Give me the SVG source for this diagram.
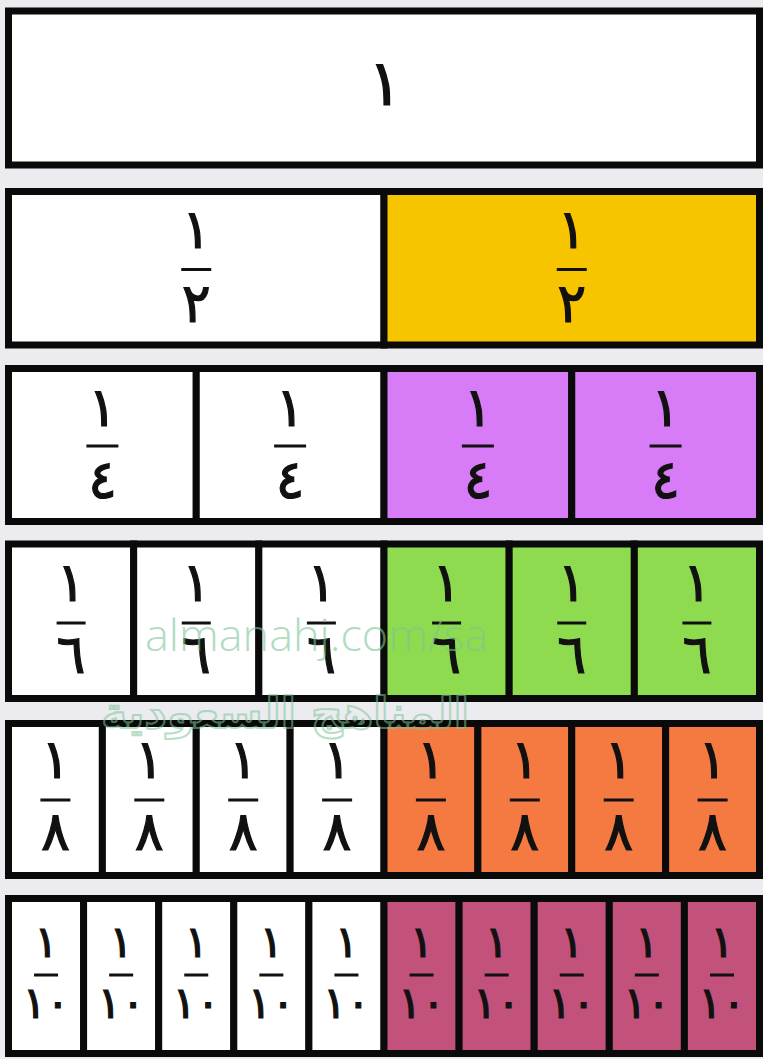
<svg xmlns="http://www.w3.org/2000/svg" width="763" height="1059" viewBox="0 0 763 1059">
<style>
.cell{stroke:#0a0a0a;stroke-width:7}
.w{fill:#ffffff}.yl{fill:#f6c500}.pu{fill:#d77cf6}.gr{fill:#8fdb50}.or{fill:#f47a42}.mr{fill:#c2527c}
.d{font-family:"DejaVu Sans",sans-serif;font-weight:normal;fill:#111;stroke:#111;stroke-width:1.2;text-anchor:middle}
.n{font-size:54px}.s{font-size:44px}.big{font-size:64px}
.bar{stroke:#111;stroke-width:3}
.wm{font-family:"Open Sans","DejaVu Sans",sans-serif;font-weight:300;font-size:45px;fill:#7cc596;opacity:0.6}
.wa{font-family:"DejaVu Sans",sans-serif;font-weight:bold;font-size:44px;fill:none;stroke:#7cc596;stroke-width:2;opacity:0.55}
</style>
<rect x="0" y="0" width="763" height="1059" fill="#ebebf0"/>
<g id="row1">
<g id="r1c1"><rect class="cell w" x="8.5" y="11" width="751" height="154"/><text class="d big" x="385" y="105">١</text></g>
</g>
<g id="row2">
<g id="r2c1"><rect class="cell w" x="8.5" y="191.5" width="375.5" height="153.5"/><text class="d n" x="196.25" y="248">١</text><line class="bar" x1="181.25" y1="269.5" x2="211.25" y2="269.5"/><text class="d n" x="196.25" y="322">٢</text></g>
<g id="r2c2"><rect class="cell yl" x="384" y="191.5" width="375.5" height="153.5"/><text class="d n" x="571.75" y="248">١</text><line class="bar" x1="556.75" y1="269.5" x2="586.75" y2="269.5"/><text class="d n" x="571.75" y="322">٢</text></g>
</g>
<g id="row3">
<g id="r3c1"><rect class="cell w" x="8.5" y="368.5" width="187.75" height="153"/><text class="d n" x="102.4" y="426">١</text><line class="bar" x1="86.4" y1="446" x2="118.4" y2="446"/><text class="d n" x="102.4" y="498">٤</text></g>
<g id="r3c2"><rect class="cell w" x="196.25" y="368.5" width="187.75" height="153"/><text class="d n" x="290.1" y="426">١</text><line class="bar" x1="274.1" y1="446" x2="306.1" y2="446"/><text class="d n" x="290.1" y="498">٤</text></g>
<g id="r3c3"><rect class="cell pu" x="384" y="368.5" width="187.75" height="153"/><text class="d n" x="477.9" y="426">١</text><line class="bar" x1="461.9" y1="446" x2="493.9" y2="446"/><text class="d n" x="477.9" y="498">٤</text></g>
<g id="r3c4"><rect class="cell pu" x="571.75" y="368.5" width="187.75" height="153"/><text class="d n" x="665.6" y="426">١</text><line class="bar" x1="649.6" y1="446" x2="681.6" y2="446"/><text class="d n" x="665.6" y="498">٤</text></g>
</g>
<g id="row4">
<g id="r4c1"><rect class="cell w" x="8.5" y="544" width="125.17" height="154.5"/><text class="d n" x="71.1" y="601">١</text><line class="bar" x1="56.6" y1="623" x2="85.6" y2="623"/><text class="d n" x="71.1" y="673">٦</text></g>
<g id="r4c2"><rect class="cell w" x="133.67" y="544" width="125.17" height="154.5"/><text class="d n" x="196.25" y="601">١</text><line class="bar" x1="181.75" y1="623" x2="210.75" y2="623"/><text class="d n" x="196.25" y="673">٦</text></g>
<g id="r4c3"><rect class="cell w" x="258.83" y="544" width="125.17" height="154.5"/><text class="d n" x="321.4" y="601">١</text><line class="bar" x1="306.9" y1="623" x2="335.9" y2="623"/><text class="d n" x="321.4" y="673">٦</text></g>
<g id="r4c4"><rect class="cell gr" x="384" y="544" width="125.17" height="154.5"/><text class="d n" x="446.6" y="601">١</text><line class="bar" x1="432.1" y1="623" x2="461.1" y2="623"/><text class="d n" x="446.6" y="673">٦</text></g>
<g id="r4c5"><rect class="cell gr" x="509.17" y="544" width="125.17" height="154.5"/><text class="d n" x="571.75" y="601">١</text><line class="bar" x1="557.25" y1="623" x2="586.25" y2="623"/><text class="d n" x="571.75" y="673">٦</text></g>
<g id="r4c6"><rect class="cell gr" x="634.33" y="544" width="125.17" height="154.5"/><text class="d n" x="696.9" y="601">١</text><line class="bar" x1="682.4" y1="623" x2="711.4" y2="623"/><text class="d n" x="696.9" y="673">٦</text></g>
</g>
<g id="row5">
<g id="r5c1"><rect class="cell w" x="8.5" y="723.5" width="93.875" height="152"/><text class="d n" x="55.4" y="778">١</text><line class="bar" x1="40.4" y1="800" x2="70.4" y2="800"/><text class="d n" x="55.4" y="850">٨</text></g>
<g id="r5c2"><rect class="cell w" x="102.375" y="723.5" width="93.875" height="152"/><text class="d n" x="149.3" y="778">١</text><line class="bar" x1="134.3" y1="800" x2="164.3" y2="800"/><text class="d n" x="149.3" y="850">٨</text></g>
<g id="r5c3"><rect class="cell w" x="196.25" y="723.5" width="93.875" height="152"/><text class="d n" x="243.2" y="778">١</text><line class="bar" x1="228.2" y1="800" x2="258.2" y2="800"/><text class="d n" x="243.2" y="850">٨</text></g>
<g id="r5c4"><rect class="cell w" x="290.125" y="723.5" width="93.875" height="152"/><text class="d n" x="337.1" y="778">١</text><line class="bar" x1="322.1" y1="800" x2="352.1" y2="800"/><text class="d n" x="337.1" y="850">٨</text></g>
<g id="r5c5"><rect class="cell or" x="384" y="723.5" width="93.875" height="152"/><text class="d n" x="430.9" y="778">١</text><line class="bar" x1="415.9" y1="800" x2="445.9" y2="800"/><text class="d n" x="430.9" y="850">٨</text></g>
<g id="r5c6"><rect class="cell or" x="477.875" y="723.5" width="93.875" height="152"/><text class="d n" x="524.8" y="778">١</text><line class="bar" x1="509.8" y1="800" x2="539.8" y2="800"/><text class="d n" x="524.8" y="850">٨</text></g>
<g id="r5c7"><rect class="cell or" x="571.75" y="723.5" width="93.875" height="152"/><text class="d n" x="618.7" y="778">١</text><line class="bar" x1="603.7" y1="800" x2="633.7" y2="800"/><text class="d n" x="618.7" y="850">٨</text></g>
<g id="r5c8"><rect class="cell or" x="665.625" y="723.5" width="93.875" height="152"/><text class="d n" x="712.6" y="778">١</text><line class="bar" x1="697.6" y1="800" x2="727.6" y2="800"/><text class="d n" x="712.6" y="850">٨</text></g>
</g>
<g id="row6">
<g id="r6c1"><rect class="cell w" x="8.5" y="898.5" width="75.1" height="155"/><text class="d s" x="46.05" y="957">١</text><line class="bar" x1="34.05" y1="975" x2="58.05" y2="975"/><text class="d s" x="46.05" y="1018">١٠</text></g>
<g id="r6c2"><rect class="cell w" x="83.6" y="898.5" width="75.1" height="155"/><text class="d s" x="121.15" y="957">١</text><line class="bar" x1="109.15" y1="975" x2="133.15" y2="975"/><text class="d s" x="121.15" y="1018">١٠</text></g>
<g id="r6c3"><rect class="cell w" x="158.7" y="898.5" width="75.1" height="155"/><text class="d s" x="196.25" y="957">١</text><line class="bar" x1="184.25" y1="975" x2="208.25" y2="975"/><text class="d s" x="196.25" y="1018">١٠</text></g>
<g id="r6c4"><rect class="cell w" x="233.8" y="898.5" width="75.1" height="155"/><text class="d s" x="271.35" y="957">١</text><line class="bar" x1="259.35" y1="975" x2="283.35" y2="975"/><text class="d s" x="271.35" y="1018">١٠</text></g>
<g id="r6c5"><rect class="cell w" x="308.9" y="898.5" width="75.1" height="155"/><text class="d s" x="346.45" y="957">١</text><line class="bar" x1="334.45" y1="975" x2="358.45" y2="975"/><text class="d s" x="346.45" y="1018">١٠</text></g>
<g id="r6c6"><rect class="cell mr" x="384" y="898.5" width="75.1" height="155"/><text class="d s" x="421.55" y="957">١</text><line class="bar" x1="409.55" y1="975" x2="433.55" y2="975"/><text class="d s" x="421.55" y="1018">١٠</text></g>
<g id="r6c7"><rect class="cell mr" x="459.1" y="898.5" width="75.1" height="155"/><text class="d s" x="496.65" y="957">١</text><line class="bar" x1="484.65" y1="975" x2="508.65" y2="975"/><text class="d s" x="496.65" y="1018">١٠</text></g>
<g id="r6c8"><rect class="cell mr" x="534.2" y="898.5" width="75.1" height="155"/><text class="d s" x="571.75" y="957">١</text><line class="bar" x1="559.75" y1="975" x2="583.75" y2="975"/><text class="d s" x="571.75" y="1018">١٠</text></g>
<g id="r6c9"><rect class="cell mr" x="609.3" y="898.5" width="75.1" height="155"/><text class="d s" x="646.85" y="957">١</text><line class="bar" x1="634.85" y1="975" x2="658.85" y2="975"/><text class="d s" x="646.85" y="1018">١٠</text></g>
<g id="r6c10"><rect class="cell mr" x="684.4" y="898.5" width="75.1" height="155"/><text class="d s" x="721.95" y="957">١</text><line class="bar" x1="709.95" y1="975" x2="733.95" y2="975"/><text class="d s" x="721.95" y="1018">١٠</text></g>
</g>
<g id="connectors"></g>
<g id="watermark">
<text class="wm" x="145" y="651">almanahj.com/sa</text>
<text class="wa" x="285" y="728" text-anchor="middle">المناهج السعودية</text>
</g>
</svg>
